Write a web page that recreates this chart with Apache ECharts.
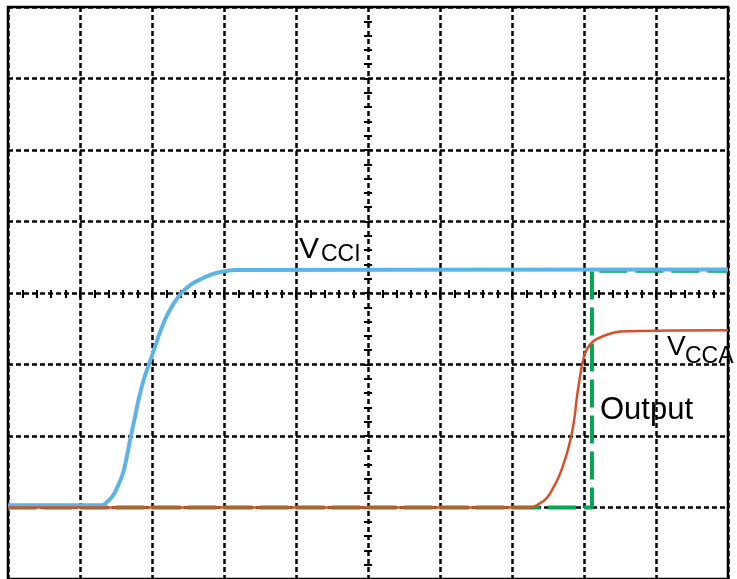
<!DOCTYPE html>
<html>
<head>
<meta charset="utf-8">
<script src="https://cdn.jsdelivr.net/npm/echarts@6/dist/echarts.min.js"></script>
<style>
html,body{margin:0;padding:0;background:#fff;}
#chart{width:737px;height:579px;}
</style>
</head>
<body>
<div id="chart"></div>
<script>
// Time in divisions, voltage in divisions
const vcciTime = [0, 1.30, 1.39, 1.46, 1.53, 1.60, 1.65, 1.70, 1.75, 1.81, 1.88, 1.96, 2.04, 2.11, 2.23, 2.39, 2.53, 2.67, 2.83, 2.99, 3.18, 10];
const vcciVolt = [0.03, 0.03, 0.09, 0.17, 0.31, 0.49, 0.71, 0.97, 1.20, 1.49, 1.77, 2.01, 2.24, 2.45, 2.73, 2.98, 3.11, 3.19, 3.26, 3.30, 3.32, 3.33];
const vccaTime = [0, 7.25, 7.39, 7.48, 7.57, 7.65, 7.72, 7.78, 7.83, 7.87, 7.90, 7.94, 7.97, 8.01, 8.05, 8.11, 8.18, 8.36, 8.50, 8.82, 10];
const vccaVolt = [0, 0, 0.06, 0.13, 0.27, 0.43, 0.62, 0.82, 1.03, 1.27, 1.53, 1.80, 1.98, 2.14, 2.23, 2.31, 2.36, 2.43, 2.46, 2.47, 2.48];
const outTime = [0, 8.11, 8.11, 10];
const outVolt = [0, 0, 3.31, 3.31];

const labels = [
  {main: 'V', sub: 'CCI', x: 299, y: 235, size: 30, subX: 321, subY: 243, subSize: 23},
  {main: 'V', sub: 'CCA', x: 667, y: 333, size: 28, subX: 685, subY: 345, subSize: 23}
];
const outputLabel = {text: 'Output', x: 600, y: 395, size: 31};

function pairs(t, v) { return t.map((x, i) => [x, v[i]]); }

const GRID = {left: 8, top: 7, width: 720, height: 574};
const dash = [5, 3];
const FONT = '"Liberation Sans", Arial, sans-serif';

const chart = echarts.init(document.getElementById('chart'), null, {renderer: 'canvas'});

const hidden = {show: false};
function tickAxis(isX, inside) {
  const base = {
    type: 'value',
    min: isX ? 0 : -1,
    max: isX ? 10 : 7,
    interval: 0.2,
    axisLine: {show: false, onZero: false},
    axisLabel: hidden,
    splitLine: hidden,
    axisTick: {show: true, inside: inside, length: 4, lineStyle: {color: '#000', width: 2}},
    silent: true
  };
  if (isX) { base.position = 'top'; base.offset = -287; }
  else { base.position = 'left'; base.offset = -360; }
  return base;
}

const graphics = [];
labels.forEach(l => {
  graphics.push({type: 'text', x: l.x, y: l.y, z: 100,
    style: {text: l.main, font: l.size + 'px ' + FONT, fill: '#000'}});
  graphics.push({type: 'text', x: l.subX, y: l.subY, z: 100,
    style: {text: l.sub, font: l.subSize + 'px ' + FONT, fill: '#000'}});
});
graphics.push({type: 'text', x: outputLabel.x, y: outputLabel.y, z: 100,
  style: {text: outputLabel.text, font: outputLabel.size + 'px ' + FONT, fill: '#000'}});

chart.setOption({
  animation: false,
  backgroundColor: '#fff',
  grid: Object.assign({show: true, borderColor: '#000', borderWidth: 2.5, backgroundColor: 'transparent', containLabel: false}, GRID),
  xAxis: [
    {type: 'value', min: 0, max: 10, interval: 1,
      axisLine: {show: false}, axisTick: hidden, axisLabel: hidden,
      splitLine: {show: true, lineStyle: {color: '#000', width: 2.5, type: dash}}},
    tickAxis(true, false),
    tickAxis(true, true)
  ],
  yAxis: [
    {type: 'value', min: -1, max: 7, interval: 1,
      axisLine: {show: false}, axisTick: hidden, axisLabel: hidden,
      splitLine: {show: true, lineStyle: {color: '#000', width: 2.5, type: dash}}},
    tickAxis(false, false),
    tickAxis(false, true)
  ],
  series: [
    {name: 'Output', type: 'line', xAxisIndex: 0, yAxisIndex: 0, data: pairs(outTime, outVolt),
      showSymbol: false, symbol: 'none', smooth: false, z: 3,
      lineStyle: {color: '#00A651', width: 4, type: [28, 8]}},
    {name: 'VCCI', type: 'line', xAxisIndex: 0, yAxisIndex: 0, data: pairs(vcciTime, vcciVolt),
      showSymbol: false, symbol: 'none', smooth: 0.4, z: 4,
      lineStyle: {color: '#5DB3E6', width: 4}},
    {name: 'VCCA', type: 'line', xAxisIndex: 0, yAxisIndex: 0, data: pairs(vccaTime, vccaVolt),
      showSymbol: false, symbol: 'none', smooth: 0.4, z: 5,
      lineStyle: {color: '#D6502A', width: 2.5}}
  ],
  graphic: graphics
});
</script>
</body>
</html>
